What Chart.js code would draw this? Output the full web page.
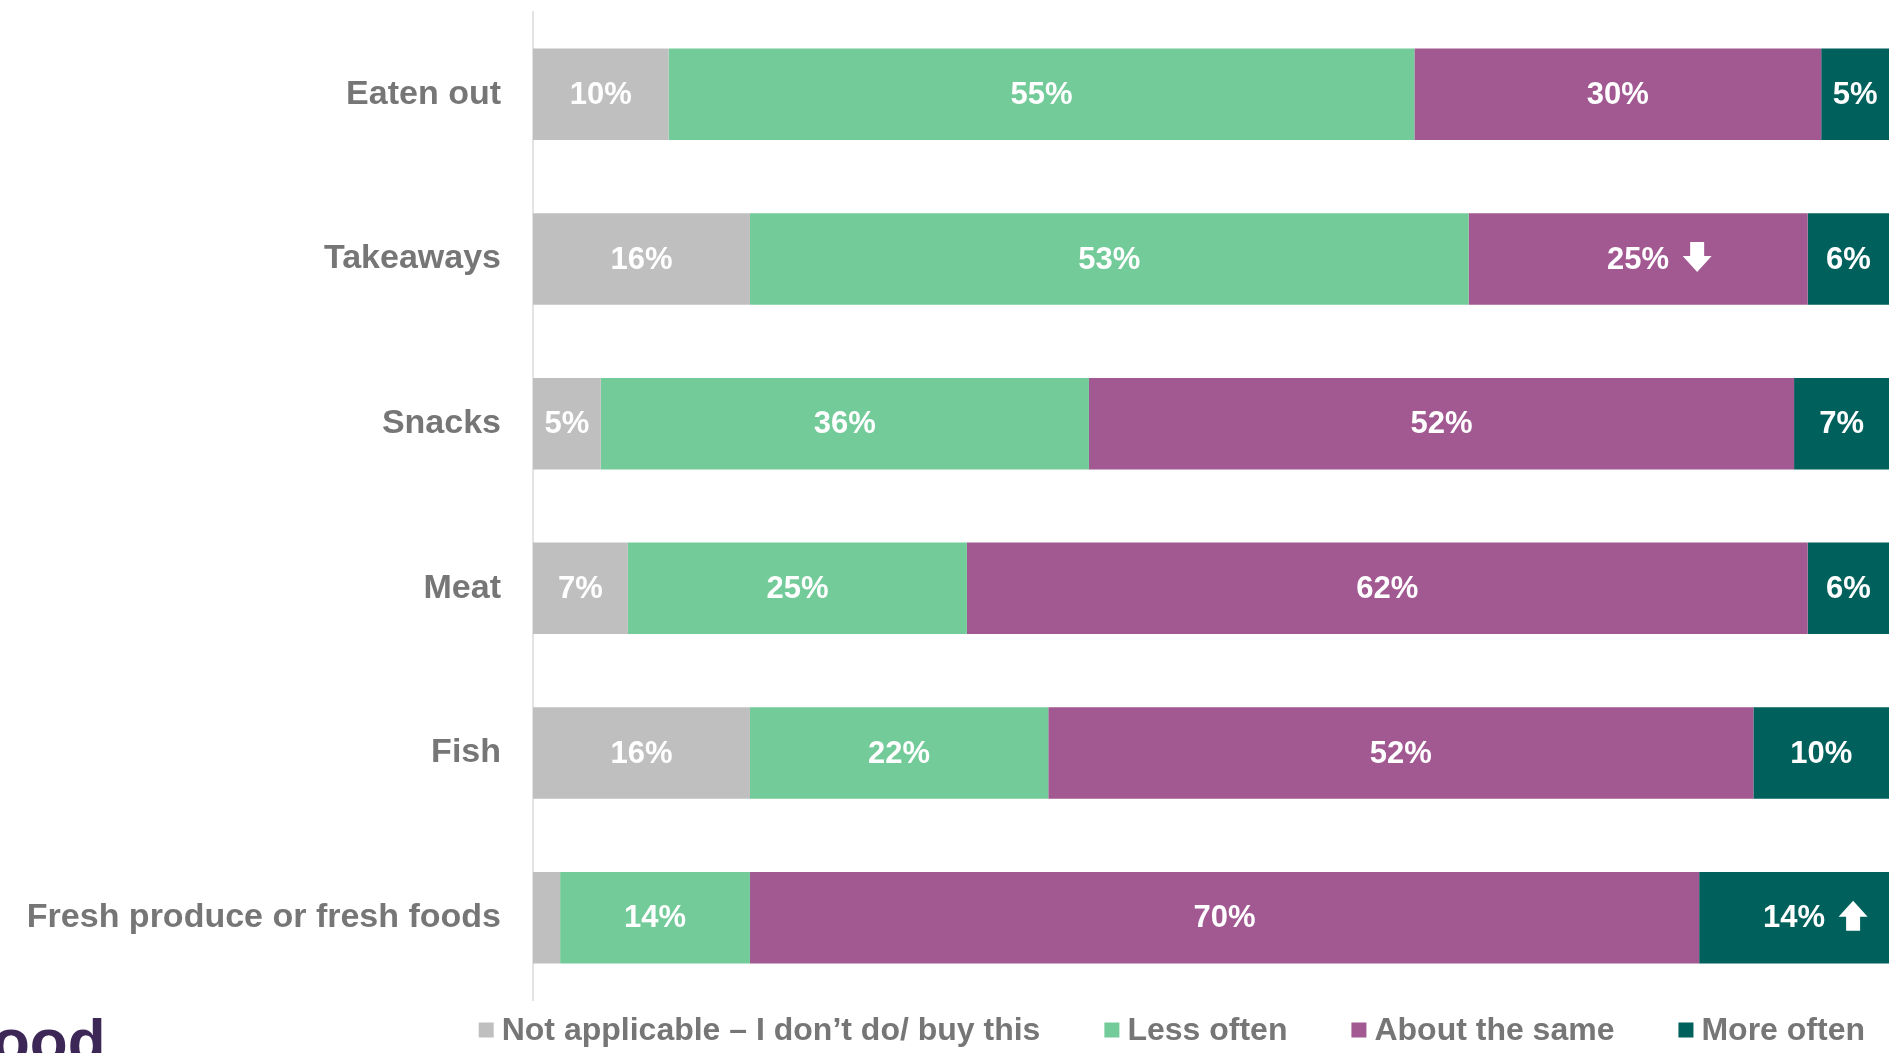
<!DOCTYPE html>
<html lang="en">
  <head>
    <meta charset="UTF-8" />
    <title>How often - food habits</title>
    <style>
      body {
        margin: 0;
        padding: 0;
        background: #fff;
      }

      .chart_container {
        position: relative;
        width: 1895px;
        height: 1053px;
      }
    </style>
  </head>
  <body>
    <div class="chart_container">
      <canvas id="bar-chart"></canvas>
    </div>
  </body>
  <script src="https://cdn.jsdelivr.net/npm/chart.js@4.4.0/dist/chart.umd.min.js"></script>
  <script>
    const categories = [
      'Eaten out',
      'Takeaways',
      'Snacks',
      'Meat',
      'Fish',
      'Fresh produce or fresh foods',
    ];

    const notApplicable = [10, 16, 5, 7, 16, 2];
    const lessOften = [55, 53, 36, 25, 22, 14];
    const aboutSame = [30, 25, 52, 62, 52, 70];
    const moreOften = [5, 6, 7, 6, 10, 14];

    // [dataset index, category index, direction] for the change arrows
    const changeArrows = [
      [2, 1, 'down'],
      [3, 5, 'up'],
    ];

    const labelFont = 'bold 31px "Liberation Sans", Arial, sans-serif';
    const greyText = '#767676';

    function drawArrow(ctx, x, y, dir) {
      // block arrow, about 29px wide and 30px tall
      const s = dir == 'up' ? -1 : 1;
      ctx.beginPath();
      ctx.moveTo(x - 7, y - 15 * s);
      ctx.lineTo(x + 7, y - 15 * s);
      ctx.lineTo(x + 7, y - 1 * s);
      ctx.lineTo(x + 14.5, y - 1 * s);
      ctx.lineTo(x, y + 15 * s);
      ctx.lineTo(x - 14.5, y - 1 * s);
      ctx.lineTo(x - 7, y - 1 * s);
      ctx.closePath();
      ctx.fill();
    }

    // white percentages centred in each segment
    const valueLabels = {
      id: 'valueLabels',
      afterDatasetsDraw(chart) {
        const ctx = chart.ctx;
        ctx.save();
        ctx.font = labelFont;
        ctx.fillStyle = '#fff';
        ctx.textAlign = 'center';
        ctx.textBaseline = 'middle';
        chart.data.datasets.forEach((ds, d) => {
          chart.getDatasetMeta(d).data.forEach((bar, i) => {
            const v = ds.data[i];
            if (v < 3) return;
            const cx = (bar.x + bar.base) / 2;
            const txt = v + '%';
            ctx.fillText(txt, cx, bar.y + 1);
            const arrow = changeArrows.find((a) => a[0] == d && a[1] == i);
            if (arrow) {
              const w = ctx.measureText(txt).width;
              drawArrow(ctx, cx + w / 2 + 28, bar.y - 2, arrow[2]);
            }
          });
        });
        ctx.restore();
      },
    };

    // legend row under the plot, right aligned
    const legendRow = {
      id: 'legendRow',
      afterDraw(chart) {
        const ctx = chart.ctx;
        const sets = chart.data.datasets;
        const box = 15,
          boxGap = 8,
          gap = 64;
        ctx.save();
        ctx.font = 'bold 32px "Liberation Sans", Arial, sans-serif';
        ctx.textBaseline = 'middle';
        const widths = sets.map(
          (ds) => box + boxGap + ctx.measureText(ds.label).width
        );
        let x =
          chart.chartArea.right -
          24 -
          widths.reduce((a, b) => a + b, 0) -
          gap * (sets.length - 1);
        const y = chart.chartArea.bottom + 30;
        sets.forEach((ds, i) => {
          ctx.fillStyle = ds.backgroundColor;
          ctx.fillRect(x, y - box / 2, box, box);
          ctx.fillStyle = greyText;
          ctx.fillText(ds.label, x + box + boxGap, y + 1);
          x += widths[i] + gap;
        });

        // corner of the logo, cut by the page edge
        ctx.font = 'bold 62px "Liberation Sans", Arial, sans-serif';
        ctx.fillStyle = '#3d2757';
        ctx.textBaseline = 'alphabetic';
        ctx.fillText('ood', -8, 1062);
        ctx.restore();
      },
    };

    let chart = new Chart(document.getElementById('bar-chart'), {
      type: 'bar',
      data: {
        labels: categories,
        datasets: [
          {
            label: 'Not applicable – I don’t do/ buy this',
            data: notApplicable,
            backgroundColor: '#bfbfbf',
          },
          {
            label: 'Less often',
            data: lessOften,
            backgroundColor: '#72cb98',
          },
          {
            label: 'About the same',
            data: aboutSame,
            backgroundColor: '#a25992',
          },
          {
            label: 'More often',
            data: moreOften,
            backgroundColor: '#00605b',
          },
        ],
      },
      options: {
        indexAxis: 'y',
        responsive: true,
        maintainAspectRatio: false,
        animation: false,
        categoryPercentage: 0.556,
        barPercentage: 1,
        borderWidth: 0,
        layout: {
          padding: { top: 12, right: 6, bottom: 53, left: 0 },
        },
        scales: {
          x: {
            stacked: true,
            min: 0,
            max: 100,
            display: false,
          },
          y: {
            stacked: true,
            grid: { display: false, drawTicks: false },
            border: { display: true, color: '#e3e3e3', width: 2 },
            ticks: {
              color: greyText,
              padding: 32,
              font: { family: '"Liberation Sans", Arial, sans-serif', size: 34, weight: 'bold' },
            },
            afterFit: (scale) => {
              // fixed gutter for the category names, no extra top/bottom room
              scale.width = 533;
              scale.paddingTop = 0;
              scale.paddingBottom = 0;
            },
          },
        },
        plugins: {
          legend: { display: false },
          tooltip: { enabled: false },
        },
      },
      plugins: [valueLabels, legendRow],
    });
  </script>
</html>
